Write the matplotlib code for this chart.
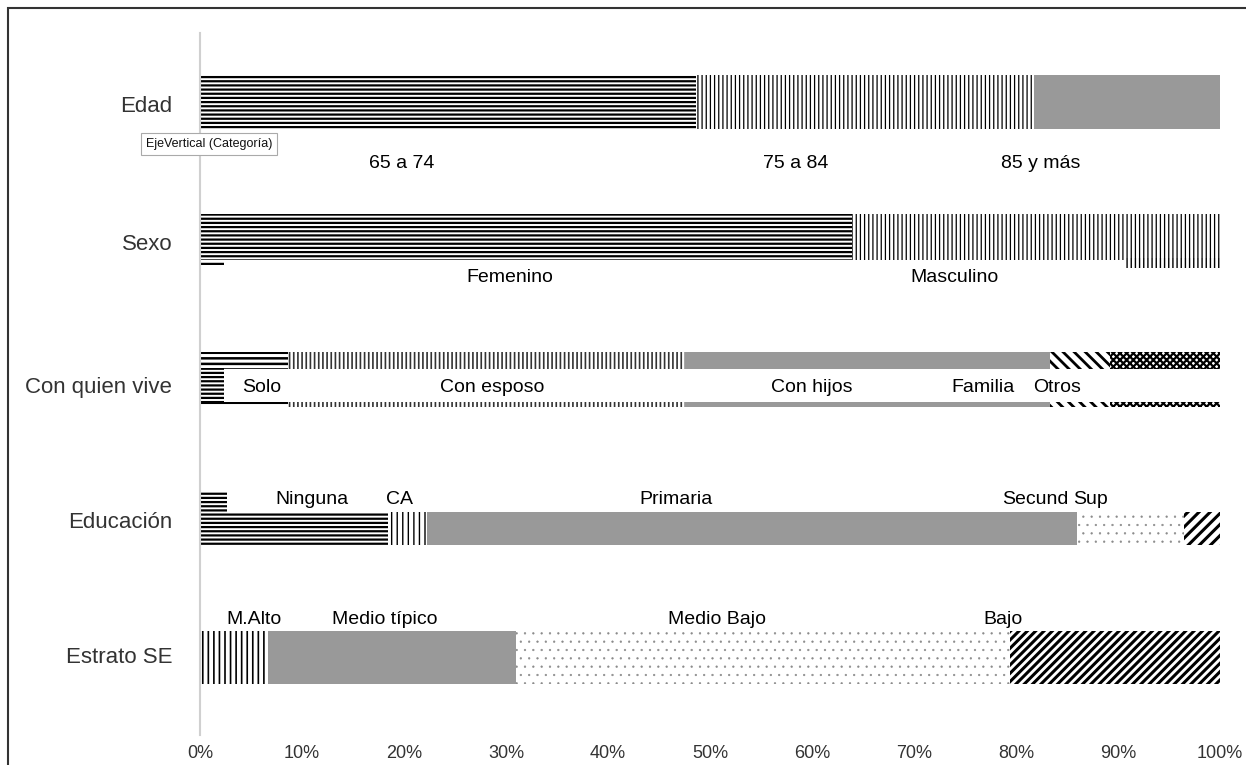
import matplotlib
matplotlib.use('Agg')
import matplotlib.pyplot as plt
from matplotlib.patches import Rectangle

# categorias (eje vertical)
rows = ['Edad', 'Sexo', 'Con quien vive', 'Educación', 'Estrato SE']

# porcentajes por categoria
edad_vals = [48.6, 33.2, 18.2]
edad_labels = ['65 a 74', '75 a 84', '85 y más']
sexo_vals = [63.9, 36.1]
sexo_labels = ['Femenino', 'Masculino']
vive_vals = [8.6, 38.9, 35.8, 5.9, 10.8]
vive_labels = ['Solo', 'Con esposo', 'Con hijos', 'Familia', 'Otros']
educ_vals = [18.4, 3.9, 63.7, 10.5, 3.5]
educ_labels = ['Ninguna', 'CA', 'Primaria', 'Secund', 'Sup']
estrato_vals = [6.7, 24.3, 48.4, 20.6]
estrato_labels = ['M.Alto', 'Medio típico', 'Medio Bajo', 'Bajo']
ticks = [0, 10, 20, 30, 40, 50, 60, 70, 80, 90, 100]

GRAY = '#999999'
NARROW = ['Liberation Sans Narrow', 'Liberation Sans', 'DejaVu Sans']

W, H = 1246, 765
fig = plt.figure(figsize=(W / 100, H / 100), dpi=100)
ax = fig.add_axes([200 / W, (H - 735) / H, 1020 / W, 702 / H])
ax.set_xlim(0, 100)
ax.set_ylim(735, 33)


def stack(vals, yc, h, styles):
    left = 0
    for v, st in zip(vals, styles):
        hatch, lw, fc, hc = st
        b = ax.barh(yc, v, height=h, left=left, color=fc, edgecolor=hc,
                    linewidth=0, hatch=hatch)[0]
        if hatch:
            try:
                b.set_hatch_linewidth(lw)
            except AttributeError:
                pass
        left += v


def labels(texts, xs, y):
    for t, x in zip(texts, xs):
        ax.text(x, y, t, ha='center', va='center', fontsize=14, family=NARROW,
                color='black')


HL = ('----', 1.6, 'white', 'black')
VL = ('||||', 0.9, 'white', 'black')
GR = (None, 0, GRAY, GRAY)
DOTS = ('..', 0.4, 'white', '#8a8a8a')

# Edad
stack(edad_vals, 102, 54, [HL, VL, GR])
labels(edad_labels, [19.8, 58.4, 82.4], 164)

# Sexo
stack(sexo_vals, 237, 46, [HL, VL])
stack([2.4], 265, 6, [('---', 1.6, 'white', 'black')])
ax.barh(263, 100 - 90.8, height=10, left=90.8, color='white', edgecolor='black',
        linewidth=0, hatch='||||')
labels(sexo_labels, [30.4, 74.0], 278)

# Con quien vive
vive_styles = [('---', 1.8, 'white', 'black'), ('||||', 1.2, 'white', '#333333'),
               GR, ('\\\\\\', 2.0, 'white', 'black'),
               ('xxxxx', 1.6, 'white', 'black')]
stack(vive_vals, 360, 17, vive_styles)
stack([2.4], 385, 34, [HL])
stack(vive_vals, 404, 5, vive_styles)
labels(vive_labels, [6.0, 28.6, 60.0, 76.8, 84.0], 387)

# Educacion
stack(educ_vals, 528.5, 33, [HL, ('|||', 1.0, 'white', 'black'), GR, DOTS,
                             ('///', 2.2, 'white', 'black')])
stack([2.6], 502, 20, [HL])
labels(educ_labels, [11.0, 19.6, 46.7, 81.9, 87.3], 500)

# Estrato SE
stack(estrato_vals, 657, 53, [('|||', 1.2, 'white', 'black'), GR, DOTS,
                              ('////', 2.2, 'white', 'black')])
labels(estrato_labels, [5.3, 18.1, 50.7, 78.7], 620)

# ejes
ax.set_yticks([104, 242, 385, 520, 655])
ax.set_yticklabels(rows, fontsize=16, family=['Liberation Sans', 'DejaVu Sans'],
                   color='#333333')
ax.set_xticks(ticks)
ax.set_xticklabels([f'{t}%' for t in ticks], fontsize=13, family=NARROW,
                   color='#333333')
ax.tick_params(axis='y', length=0, pad=20)
ax.tick_params(axis='x', length=0, pad=7)
for s in ['top', 'right', 'bottom']:
    ax.spines[s].set_visible(False)
ax.spines['left'].set_color('#d0d0d0')
ax.spines['left'].set_linewidth(1.5)

# tooltip
fig.text(146 / W, 1 - 144 / H, 'EjeVertical (Categoría)', fontsize=9,
         family=NARROW, va='center', ha='left', color='#111111',
         bbox=dict(boxstyle='square,pad=0.4', facecolor='white',
                   edgecolor='#aaaaaa', linewidth=0.8))

# marco
fig.patches.append(Rectangle((8 / W, -0.1), 1.2, 1.1 - 8 / H,
                             transform=fig.transFigure, fill=False,
                             edgecolor='#333333', linewidth=1.5))

fig.savefig('out.png', dpi=100)
